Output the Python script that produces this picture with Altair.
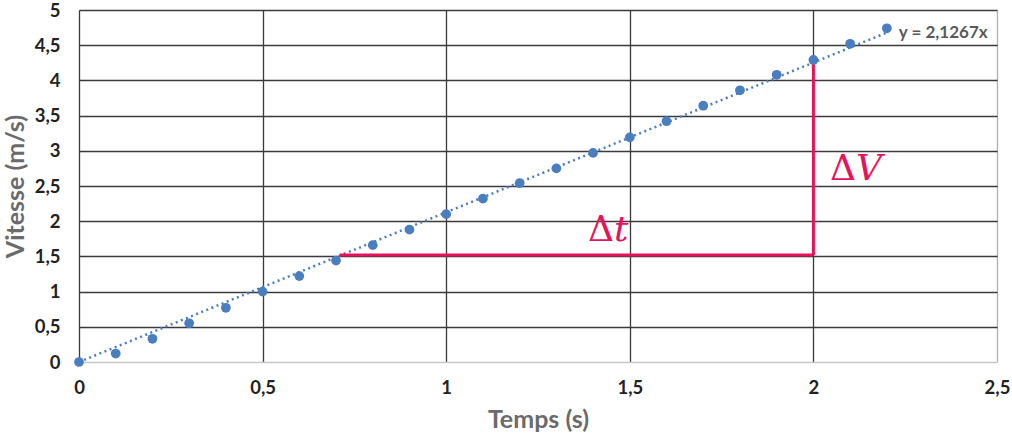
import altair as alt
import pandas as pd

temps = [0.0, 0.1, 0.2, 0.3, 0.4, 0.5, 0.6, 0.7, 0.8, 0.9, 1.0, 1.1,
         1.2, 1.3, 1.4, 1.5, 1.6, 1.7, 1.8, 1.9, 2.0, 2.1, 2.2]
vitesse = [0.00, 0.12, 0.33, 0.55, 0.77, 1.00, 1.22, 1.44, 1.66, 1.88, 2.10, 2.32,
           2.54, 2.75, 2.97, 3.19, 3.42, 3.64, 3.86, 4.08, 4.29, 4.52, 4.74]
slope = 2.1267
trend_t = [0.0, 2.2]
trend_label = "y = 2,1267x"

# delta annotation: horizontal (t from 0.71 to 2 at V=1.52), vertical (V from 1.52 to 4.27 at t=2)
dt_x = [0.71, 2.0]
dt_y = [1.52, 1.52]
dv_x = [2.0, 2.0]
dv_y = [1.52, 4.27]
labels_pos = [("Δ", "t", 1.457, 1.72), ("Δ", "V", 2.116, 2.585)]

x_ticks = [0, 0.5, 1, 1.5, 2, 2.5]
y_ticks = [0, 0.5, 1, 1.5, 2, 2.5, 3, 3.5, 4, 4.5, 5]

BLUE = "#4a7ebf"
RED = "#e8125c"
FONT = "Lato"

pts = pd.DataFrame({"t": temps, "v": vitesse})
trend = pd.DataFrame({"t": trend_t, "v": [slope * t for t in trend_t]})
trend_end = trend.iloc[[-1]].assign(label=trend_label)
red_h = pd.DataFrame({"t": dt_x, "v": dt_y})
red_v = pd.DataFrame({"t": dv_x, "v": dv_y})
lab = pd.DataFrame([{"a": a, "b": b, "t": t, "v": v} for a, b, t, v in labels_pos])

xscale = alt.Scale(domain=[0, 2.5], nice=False, zero=False)
yscale = alt.Scale(domain=[0, 5], nice=False, zero=False)

x_axis = alt.Axis(
    values=x_ticks, labelExpr="replace(format(datum.value, '.1~f'), '.', ',')",
    title="Temps (s)", grid=True, labelOverlap=False, labelFlush=False,
    gridColor=alt.condition("datum.value == 2.5", alt.value("#b0b0b0"), alt.value("#3a3a3a")),
    gridWidth=1.3, ticks=False, domain=False, labelPadding=16, titlePadding=11,
    labelFont=FONT, labelFontSize=18.5, labelFontWeight="bold", labelColor="#222222",
    titleFont=FONT, titleFontSize=25, titleFontWeight="bold", titleColor="#6b6b6b",
)
y_axis = alt.Axis(
    values=y_ticks, labelExpr="replace(format(datum.value, '.1~f'), '.', ',')",
    title="Vitesse (m/s)", grid=True, labelOverlap=False, labelFlush=False,
    gridColor=alt.condition("datum.value == 0", alt.value("#c8c8c8"), alt.value("#3a3a3a")),
    gridWidth=1.3, ticks=False, domain=False, labelPadding=19, titlePadding=6,
    labelFont=FONT, labelFontSize=18.5, labelFontWeight="bold", labelColor="#222222",
    titleFont=FONT, titleFontSize=25, titleFontWeight="bold", titleColor="#6b6b6b",
)

X = lambda: alt.X("t:Q", scale=xscale, axis=x_axis)
Y = lambda: alt.Y("v:Q", scale=yscale, axis=y_axis)

trend_line = alt.Chart(trend).mark_line(
    color=BLUE, strokeWidth=2.5, strokeDash=[2, 3.5]
).encode(x=X(), y=Y())

points = alt.Chart(pts).mark_circle(size=95, color=BLUE, opacity=1).encode(x=X(), y=Y())

trend_text = alt.Chart(trend_end).mark_text(
    align="left", baseline="middle", dx=12, dy=0, font=FONT, fontSize=17,
    fontWeight="bold", color="#595959"
).encode(x=X(), y=Y(), text="label:N")

rh = alt.Chart(red_h).mark_line(color=RED, strokeWidth=3).encode(x=X(), y=Y())
rv = alt.Chart(red_v).mark_line(color=RED, strokeWidth=3).encode(x=X(), y=Y())

delta = alt.Chart(lab).mark_text(
    align="right", baseline="alphabetic", font="DejaVu Serif", fontSize=36, color=RED
).encode(x=X(), y=Y(), text="a:N")
var = alt.Chart(lab).mark_text(
    align="left", baseline="alphabetic", font="DejaVu Serif", fontSize=36,
    fontStyle="italic", color=RED
).encode(x=X(), y=Y(), text="b:N")

chart = alt.layer(trend_line, rh, rv, points, trend_text, delta, var).properties(
    width=918, height=352,
    autosize=alt.AutoSizeParams(type="none"),
    padding={"left": 79, "top": 10, "right": 15, "bottom": 76},
    background="white",
).configure_view(stroke=None)

chart.save("out.html", embed_options={"renderer": "svg", "actions": False})
